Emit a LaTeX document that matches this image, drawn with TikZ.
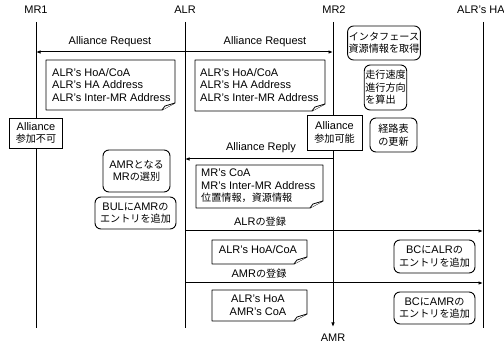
\documentclass[tikz,border=0pt]{standalone}
\usepackage{fontspec}
\setmainfont{Liberation Sans}
\newfontfamily\jp{Noto Sans CJK JP}[Scale=0.92]
\usetikzlibrary{arrows.meta}
\tikzset{
  txt/.style={font=\fontsize{11}{12.6}\selectfont, inner sep=0pt},
  life/.style={line width=1pt},
  msg/.style={line width=1pt, -{Latex[length=4.5pt,width=3.5pt]}},
  rbox/.style={draw, line width=0.9pt, rounded corners=6pt, fill=white, inner sep=1pt,
    font=\fontsize{11}{12.6}\selectfont},
  sbox/.style={draw, line width=0.7pt, fill=white, inner sep=1pt, align=center,
    font=\fontsize{11}{12.6}\selectfont},
  notebox/.style={draw, line width=0.8pt, fill=white, line join=round},
}
\newcommand\mynote[4]{%
  \draw[notebox] (#1,#2) -- (#3,#2) -- (#3,#4-7) -- (#3-13,#4) -- (#1,#4) -- cycle;
  \draw[notebox] (#3-13,#4) -- (#3-10,#4-4) -- (#3,#4-7);
}
\begin{document}
\begin{tikzpicture}[x=1pt,y=-1pt]
\useasboundingbox (0,0) rectangle (504,344);

% lifeline heads
\node[txt] (mr1) at (36,10) {MR1};
\node[txt] (alr) at (185,10) {ALR};
\node[txt] (mr2) at (334,10) {MR2};
\node[txt, anchor=west] (ha) at (457,10) {ALR's HA};
\node[txt] (amr) at (333,338) {AMR};

% lifeline ends
\coordinate (mr1t) at (36,22);  \coordinate (mr1b) at (36,328);
\coordinate (alrt) at (185,22); \coordinate (alrb) at (185,328);
\coordinate (mr2t) at (333,22); \coordinate (mr2b) at (333,327);
\coordinate (hat)  at (483,22); \coordinate (hab)  at (483,328);

\draw[life] (mr1t) -- (mr1b);
\draw[life] (alrt) -- (alrb);
\draw[msg]  (mr2t) -- (mr2b);
\draw[life] (hat) -- (hab);

% message points
\coordinate (alrA) at (185,52); \coordinate (mr1A) at (36,52); \coordinate (mr2A) at (333,52);
\coordinate (mr2B) at (333,159); \coordinate (alrB) at (185,159);
\coordinate (alrC) at (185,231); \coordinate (haC) at (483,231);
\coordinate (alrD) at (185,283); \coordinate (haD) at (483,283);

\draw[msg] (alrA) -- (mr1A);
\draw[msg] (alrA) -- (mr2A);
\draw[msg] (mr2B) -- (alrB);
\draw[msg] (alrC) -- (haC);
\draw[msg] (alrD) -- (haD);

% message labels
\node[txt] (l1) at (110,42) {Alliance Request};
\node[txt] (l2) at (265,42) {Alliance Request};
\node[txt] (l3) at (261,148) {Alliance Reply};
\node[txt] (l4) at (260,222) {ALR{\jp の登録}};
\node[txt] (l5) at (259,274) {AMR{\jp の登録}};

% notes
\mynote{46}{60}{175}{110}
\node[txt, anchor=west, align=left] (n1) at (52,85) {ALR's HoA/CoA\\ALR's HA Address\\ALR's Inter-MR Address};
\mynote{195}{60}{325}{111}
\node[txt, anchor=west, align=left] (n2) at (200,85) {ALR's HoA/CoA\\ALR's HA Address\\ALR's Inter-MR Address};
\mynote{196}{165}{323}{208}
\node[txt, anchor=west, align=left] (n3) at (201,186) {MR's CoA\\MR's Inter-MR Address\\{\jp 位置情報，資源情報}};
\mynote{212}{240}{307}{264}
\node[txt] (n4) at (258,250) {ALR's HoA/CoA};
\mynote{212}{290}{307}{321}
\node[txt, align=center] (n5) at (258,305) {ALR's HoA\\AMR's CoA};

% square boxes
\node[sbox, minimum width=53pt, minimum height=30pt] (nj1) at (36,133) {Alliance\\{\jp 参加不可}};
\node[sbox, minimum width=55pt, minimum height=35pt] (nj2) at (334.5,132.5) {Alliance\\{\jp 参加可能}};

% rounded boxes
\node[rbox, align=center, minimum width=68pt, minimum height=34pt] (r1) at (384,43) {{\jp インタフェース}\\{\jp 資源情報を取得}};
\node[rbox, align=left, minimum width=41pt, minimum height=45pt] (r2) at (385.5,87.5) {{\jp 走行速度}\\{\jp 進行方向}\\{\jp を算出}};
\node[rbox, align=center, minimum width=47pt, minimum height=34pt] (r3) at (393.5,135) {{\jp 経路表}\\{\jp の更新}};
\node[rbox, align=center, minimum width=67pt, minimum height=42pt] (r4) at (136.5,171) {AMR{\jp となる}\\MR{\jp の選別}};
\node[rbox, align=center, minimum width=81pt, minimum height=32pt] (r5) at (135.5,213) {BUL{\jp に}AMR{\jp の}\\{\jp エントリを追加}};
\node[rbox, align=center, minimum width=81pt, minimum height=33pt] (r6) at (434.5,256.5) {BC{\jp に}ALR{\jp の}\\{\jp エントリを追加}};
\node[rbox, align=center, minimum width=81pt, minimum height=32pt] (r7) at (434.5,308) {BC{\jp に}AMR{\jp の}\\{\jp エントリを追加}};
\end{tikzpicture}
\end{document}
